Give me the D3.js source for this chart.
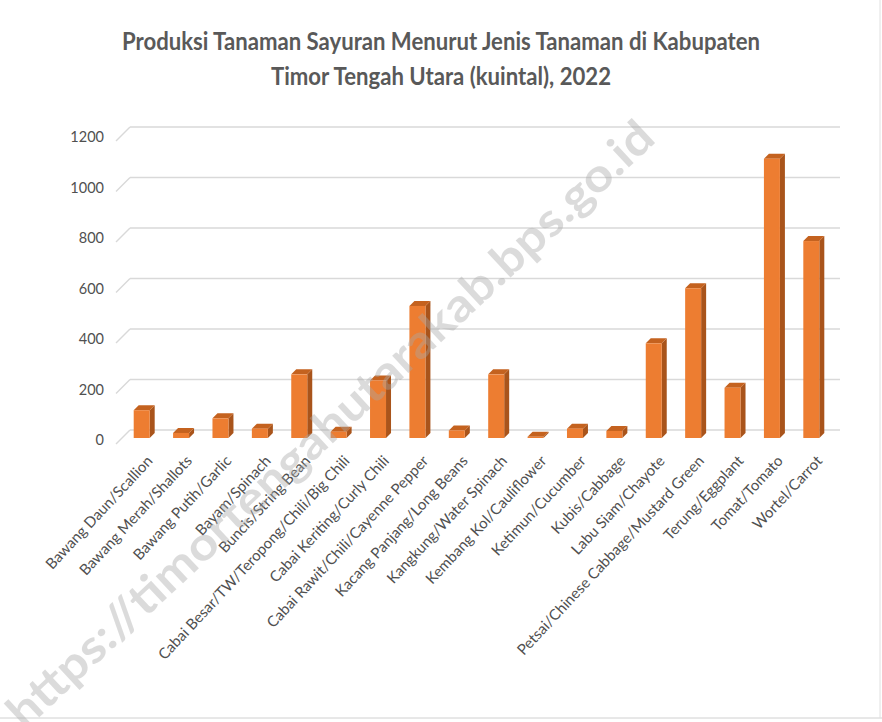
<!DOCTYPE html>
<html>
<head>
<meta charset="utf-8">
<script src="https://cdn.jsdelivr.net/npm/d3@7"></script>
<style>
  body { margin: 0; background: #fff; }
  svg { display: block; font-family: Lato, "Open Sans", sans-serif; }
</style>
</head>
<body>
<div id="chart"></div>
<script>
var width = 882,
  height = 722;

// data (kuintal)
var categories = [
  "Bawang Daun/Scallion", "Bawang Merah/Shallots", "Bawang Putih/Garlic",
  "Bayam/Spinach", "Buncis/String Bean", "Cabai Besar/TW/Teropong/Chili/Big Chili",
  "Cabai Keriting/Curly Chili", "Cabai Rawit/Chili/Cayenne Pepper",
  "Kacang Panjang/Long Beans", "Kangkung/Water Spinach", "Kembang Kol/Cauliflower",
  "Ketimun/Cucumber", "Kubis/Cabbage", "Labu Siam/Chayote",
  "Petsai/Chinese Cabbage/Mustard Green", "Terung/Eggplant", "Tomat/Tomato", "Wortel/Carrot"
];
var production = [110, 20, 78, 37, 252, 25, 228, 523, 30, 252, 5, 37, 28, 375, 593, 199, 1106, 780];
var yTicks = [0, 200, 400, 600, 800, 1000, 1200];
var titleLines = ["Produksi Tanaman Sayuran Menurut Jenis Tanaman di Kabupaten",
  "Timor Tengah Utara (kuintal), 2022"];
var watermark = "https://timortengahutarakab.bps.go.id";

var svg = d3.select("#chart")
  .append("svg")
  .attr("width", width)
  .attr("height", height);

// back wall scale and depth offsets of the fake 3D
var y = d3.scaleLinear().domain([0, 1200]).range([430, 127]);
var depthX = 14, depthY = 14;   // left wall slant
var barDepth = 8;               // bars sit this far in front of the wall
var x = d3.scaleBand()
  .domain(categories)
  .range([122, 831])
  .paddingInner(0.594)
  .paddingOuter(0.297);

// title
svg.append("g")
  .selectAll("text")
  .data(titleLines)
  .enter().append("text")
  .attr("x", 441)
  .attr("y", function (d, i) { return 50 + i * 35; })
  .attr("text-anchor", "middle")
  .attr("textLength", function (d, i) { return i == 0 ? 638 : 340; })
  .attr("lengthAdjust", "spacingAndGlyphs")
  .style("font-size", "25px")
  .style("font-weight", "bold")
  .style("fill", "#595959")
  .text(function (d) { return d; });

// gridlines (back wall + slanted left wall)
var grid = svg.append("g").attr("class", "grid");
grid.selectAll("line.back")
  .data(yTicks)
  .enter().append("line")
  .attr("class", "back")
  .attr("x1", 130).attr("x2", 840)
  .attr("y1", function (d) { return y(d); })
  .attr("y2", function (d) { return y(d); })
  .style("stroke", "#d9d9d9")
  .style("stroke-width", 1.5);
grid.selectAll("line.side")
  .data(yTicks)
  .enter().append("line")
  .attr("class", "side")
  .attr("x1", 130 - depthX).attr("x2", 130)
  .attr("y1", function (d) { return y(d) + depthY; })
  .attr("y2", function (d) { return y(d); })
  .style("stroke", "#d9d9d9")
  .style("stroke-width", 1.5);

// y labels
svg.append("g")
  .selectAll("text")
  .data(yTicks)
  .enter().append("text")
  .attr("x", 104)
  .attr("y", function (d) { return y(d) + 10; })
  .attr("dy", "0.35em")
  .attr("text-anchor", "end")
  .style("font-size", "14.5px")
  .style("fill", "#505050")
  .text(function (d) { return d; });

// bars: front face, side face, top face
var bw = x.bandwidth(), sd = 5;
var bars = svg.append("g")
  .selectAll("g")
  .data(production)
  .enter().append("g");

bars.append("path")
  .attr("d", function (d, i) {
    var x0 = x(categories[i]) + bw, t = y(d) + barDepth, b = y(0) + barDepth;
    return "M" + x0 + "," + t + "L" + (x0 + sd) + "," + (t - sd) +
      "L" + (x0 + sd) + "," + (b - sd) + "L" + x0 + "," + b + "Z";
  })
  .style("fill", "#a9541b");

bars.append("path")
  .attr("d", function (d, i) {
    var x0 = x(categories[i]), t = y(d) + barDepth;
    return "M" + x0 + "," + t + "L" + (x0 + sd) + "," + (t - sd) +
      "L" + (x0 + bw + sd) + "," + (t - sd) + "L" + (x0 + bw) + "," + t + "Z";
  })
  .style("fill", "#c4621f");

bars.append("rect")
  .attr("x", function (d, i) { return x(categories[i]); })
  .attr("y", function (d) { return y(d) + barDepth; })
  .attr("width", bw)
  .attr("height", function (d) { return y(0) - y(d); })
  .style("fill", "#ed7d31");

// category labels, rotated
svg.append("g")
  .selectAll("text")
  .data(categories)
  .enter().append("text")
  .attr("transform", function (d) {
    return "translate(" + (x(d) + bw / 2 + 8) + ",458) rotate(-47)";
  })
  .attr("dy", "0.35em")
  .attr("text-anchor", "end")
  .style("font-size", "15px")
  .style("fill", "#505050")
  .text(function (d) { return d; });

// frame
svg.append("line")
  .attr("x1", 0).attr("x2", width)
  .attr("y1", 718).attr("y2", 718)
  .style("stroke", "#d0d0d0");
svg.append("line")
  .attr("x1", 880).attr("x2", 880)
  .attr("y1", 0).attr("y2", 718)
  .style("stroke", "#e0e0e0");

// watermark
svg.append("text")
  .attr("transform", "translate(330,424) rotate(-43)")
  .attr("text-anchor", "middle")
  .attr("dy", "0.35em")
  .attr("textLength", 865)
  .attr("lengthAdjust", "spacingAndGlyphs")
  .style("font-size", "46px")
  .style("font-weight", "bold")
  .style("fill", "#a8a8a8")
  .style("opacity", 0.4)
  .text(watermark);
</script>
</body>
</html>
